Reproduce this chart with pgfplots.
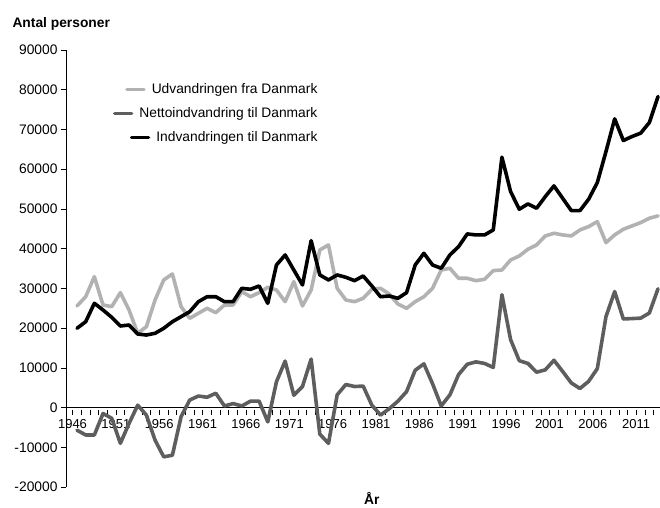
\documentclass[border=0pt]{standalone}
\usepackage{fontspec}
\setmainfont{Liberation Sans}
\usepackage{pgfplots}
\pgfplotsset{compat=1.18}
\definecolor{lightg}{RGB}{178,178,178}
\definecolor{darkg}{RGB}{94,94,94}

\pgfplotstableread{
year udv netto indv
1946 25570 -5700 19950
1947 27900 -6900 21610
1948 32950 -6900 26240
1949 25820 -1500 24560
1950 25400 -2700 22720
1951 28920 -9000 20530
1952 24560 -4000 20780
1953 18690 600 18510
1954 20350 -1900 18260
1955 27080 -8200 18690
1956 32120 -12400 19950
1957 33630 -12000 21610
1958 25400 -2300 22870
1959 22470 1900 24130
1960 23730 2900 26650
1961 24980 2600 27900
1962 23890 3600 27900
1963 25820 400 26650
1964 25820 1000 26650
1965 29170 400 30020
1966 27900 1600 29770
1967 28920 1600 30600
1968 30270 -3600 26240
1969 29600 6500 35890
1970 26650 11700 38410
1971 31690 3100 34630
1972 25570 5300 30860
1973 29600 12200 42010
1974 39670 -6700 33380
1975 40930 -9000 32120
1976 30020 3200 33380
1977 27080 5800 32790
1978 26650 5300 31940
1979 27500 5400 33120
1980 29770 600 30600
1981 30020 -1900 27900
1982 28590 -300 28080
1983 26070 1600 27500
1984 24980 4000 28920
1985 26650 9400 35890
1986 27900 11000 38830
1987 30020 6000 35890
1988 34630 400 35060
1989 35060 3200 38410
1990 32540 8300 40500
1991 32540 10900 43700
1992 31940 11500 43450
1993 32290 11100 43450
1994 34460 10100 44710
1995 34630 28400 63020
1996 37150 17100 54360
1997 38160 11800 49920
1998 39850 11100 51260
1999 40930 8900 50170
2000 43200 9500 53100
2001 43870 11900 55790
2002 43450 9100 52690
2003 43200 6200 49580
2004 44710 4800 49580
2005 45550 6600 52440
2006 46800 9800 56630
2007 41510 22900 64440
2008 43450 29200 72670
2009 44880 22300 67210
2010 45720 22400 68220
2011 46550 22500 69070
2012 47660 23800 71740
2013 48240 29900 78290
}\data

\newcommand{\legline}[1]{\tikz[baseline=-0.33em]\draw[#1,line width=3.6pt,line cap=round] (0pt,0pt) -- (17pt,0pt);\hspace{6pt}}

\begin{document}
\begin{tikzpicture}
\path[use as bounding box] (0pt,0pt) rectangle (660pt,-507pt);
\begin{axis}[
  at={(66pt,-487pt)}, anchor=south west,
  scale only axis, width=594pt, height=437pt,
  xmin=1944.73, xmax=2013.23, ymin=-20000, ymax=90000,
  axis y line*=left, axis x line*=middle,
  axis line style={black, line width=0.8pt},
  clip=false,
  scaled y ticks=false,
  xtick={1946,1951,...,2011},
  minor xtick={1945.5,1946.5,...,2012.5},
  ytick={-20000,-10000,...,90000},
  tick align=outside,
  major tick length=5pt, minor tick length=5pt,
  major x tick style={draw=none},
  minor x tick style={black, line width=0.6pt, yshift=-2.5pt},
  major y tick style={black, line width=0.6pt},
  /pgf/number format/1000 sep={},
  /pgf/number format/assume math mode=true,
  yticklabel style={font=\fontsize{13.8}{16}\selectfont},
  xticklabel style={font=\fontsize{13}{15}\selectfont, xshift=-4.5pt, yshift=-3pt},
  xlabel={\bfseries År},
  xlabel style={at={(axis description cs:0.515,0)}, anchor=base, yshift=-17pt, font=\fontsize{13.8}{16}\selectfont},
  legend style={at={(axis description cs:0.427,0.9275)}, anchor=north east, draw=none, fill=none,
    font=\fontsize{13.8}{16}\selectfont, row sep=8.5pt, inner sep=0pt},
  legend cell align=right,
  legend image code/.code={},
  every axis plot/.append style={line width=3.6pt, line join=round, line cap=round},
]
\addplot[lightg] table[x=year,y=udv]{\data};
\addlegendentry{\legline{lightg}Udvandringen fra Danmark}
\addplot[darkg] table[x=year,y=netto]{\data};
\addlegendentry{\legline{darkg}Nettoindvandring til Danmark}
\addplot[black] table[x=year,y=indv]{\data};
\addlegendentry{\legline{black}Indvandringen til Danmark}
\end{axis}
\node[anchor=base west, font=\bfseries\fontsize{13.8}{16}\selectfont] at (9pt,-27pt) {Antal personer};
\end{tikzpicture}
\end{document}
